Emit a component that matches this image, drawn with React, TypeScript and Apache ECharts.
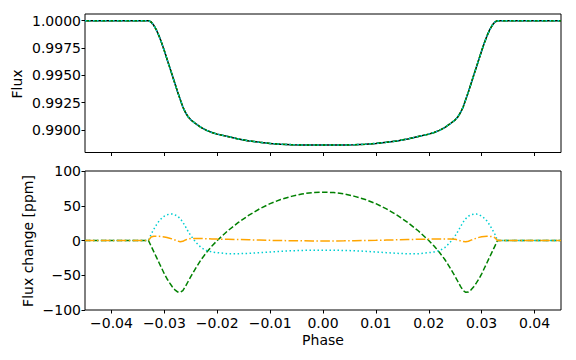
import React, { useEffect, useRef } from "react";
import * as echarts from "echarts";

const phase = [
  -0.045, -0.04, -0.035, -0.0335, -0.033, -0.0325, -0.032, -0.0315, -0.031, -0.0305,
  -0.03, -0.0295, -0.029, -0.0285, -0.028, -0.0275, -0.027, -0.0265, -0.026, -0.0255,
  -0.025, -0.024, -0.023, -0.022, -0.021, -0.02, -0.018, -0.016, -0.014, -0.012,
  -0.01, -0.008, -0.006, -0.004, -0.002,
  0,
  0.002, 0.004, 0.006, 0.008, 0.01, 0.012, 0.014, 0.016, 0.018, 0.02,
  0.021, 0.022, 0.023, 0.024, 0.025, 0.0255, 0.026, 0.0265, 0.027, 0.0275,
  0.028, 0.0285, 0.029, 0.0295, 0.03, 0.0305, 0.031, 0.0315, 0.032, 0.0325,
  0.033, 0.0335, 0.035, 0.04, 0.045,
];

const fluxModel = [
  1.0, 1.0, 1.0, 1.0, 1.0, 0.99988, 0.99958, 0.99915, 0.9986, 0.99795,
  0.99725, 0.9965, 0.99575, 0.995, 0.99425, 0.9935, 0.9928, 0.9921, 0.9916, 0.9912,
  0.99093, 0.99055, 0.99022, 0.98996, 0.98977, 0.98962, 0.9894, 0.98918, 0.989, 0.98887,
  0.98877, 0.9887, 0.98866, 0.98863, 0.98862,
  0.98862,
  0.98862, 0.98863, 0.98866, 0.9887, 0.98877, 0.98887, 0.989, 0.98918, 0.9894, 0.98962,
  0.98977, 0.98996, 0.99022, 0.99055, 0.99093, 0.9912, 0.9916, 0.9921, 0.9928, 0.9935,
  0.99425, 0.995, 0.99575, 0.9965, 0.99725, 0.99795, 0.9986, 0.99915, 0.99958, 0.99988,
  1.0, 1.0, 1.0, 1.0, 1.0,
];

const dGreen = [
  0, 0, 0, 0, 0, -8, -16, -24, -32, -40,
  -48, -55, -61, -66.5, -71, -74, -74.5, -72, -66, -59,
  -52, -39, -27, -17, -8, 0, 14, 26, 36.5, 45.5,
  53, 59, 63.5, 67, 69,
  69.5,
  69, 67, 63.5, 59, 53, 45.5, 36.5, 26, 14, 0,
  -8, -17, -27, -39, -52, -59, -66, -72, -74.5, -74,
  -71, -66.5, -61, -55, -48, -40, -32, -24, -16, -8,
  0, 0, 0, 0, 0,
];

const dCyan = [
  0, 0, 0, 0, 0, 9, 16, 22.5, 28, 32,
  35, 37, 38, 38, 37, 35, 31.5, 26.5, 20, 13,
  7, -3, -10.5, -14.5, -16.5, -17.5, -19, -19, -18.5, -17.5,
  -16.5, -15.5, -14.8, -14.3, -14,
  -14,
  -14, -14.3, -14.8, -15.5, -16.5, -17.5, -18.5, -19, -19, -17.5,
  -16.5, -14.5, -10.5, -3, 7, 13, 20, 26.5, 31.5, 35,
  37, 38, 38, 37, 35, 32, 28, 22.5, 16, 9,
  0, 0, 0, 0, 0,
];

const dOrange = [
  0, 0, 0, 0, 0, 5, 6, 6, 6, 5.5,
  5, 4.2, 3.3, 2.2, 0.8, -0.8, -1.8, -1.2, 0.8, 2.2,
  2.8, 3, 2.8, 2.5, 2.2, 2, 1.7, 1.4, 1, 0.6,
  0.2, -0.1, -0.3, -0.5, -0.6,
  -0.6,
  -0.6, -0.5, -0.3, -0.1, 0.2, 0.6, 1, 1.4, 1.7, 2,
  2.1, 2.2, 2.3, 2.3, 1.8, 0.8, -0.5, -1.6, -1.8, -1,
  0.5, 2, 3.3, 4.5, 5.3, 5.8, 6, 6, 5.5, 4,
  0, 0, 0, 0, 0,
];

const xTicks = [-0.04, -0.03, -0.02, -0.01, 0, 0.01, 0.02, 0.03, 0.04];
const fluxTicks = [0.99, 0.9925, 0.995, 0.9975, 1.0];
const ppmTicks = [-100, -50, 0, 50, 100];

const FONT = "DejaVu Sans";
const MINUS = "\u2212";

function fmtSigned(s: string): string {
  return s.startsWith("-") ? MINUS + s.slice(1) : s;
}

export default function App() {
  const ref = useRef<HTMLDivElement>(null);

  useEffect(() => {
    if (!ref.current) return;
    const chart = echarts.init(ref.current, null, { renderer: "svg" });

    const tickStyle = { show: true, inside: false, length: 3.5, lineStyle: { color: "#000", width: 1 } };
    const labelBase = { color: "#000", fontFamily: FONT, fontSize: 14 };
    const noLine = { show: false, onZero: false };

    const pts = (ys: number[]) => phase.map((p, i) => [p, ys[i]]);
    const line = (name: string, xi: number, ys: number[], color: string, type: any, z: number) => ({
      name,
      type: "line",
      xAxisIndex: xi,
      yAxisIndex: xi,
      data: pts(ys),
      showSymbol: false,
      symbol: "none",
      silent: true,
      z,
      lineStyle: { color, width: 1.5, type, cap: "butt" },
    });

    chart.setOption({
      animation: false,
      backgroundColor: "#fff",
      grid: [
        { left: 85, top: 14, width: 476, height: 138.5, show: true, borderColor: "#000", borderWidth: 1, backgroundColor: "transparent" },
        { left: 85, top: 171, width: 476, height: 139, show: true, borderColor: "#000", borderWidth: 1, backgroundColor: "transparent" },
      ],
      xAxis: [
        {
          gridIndex: 0, type: "value", min: -0.045, max: 0.045, position: "bottom",
          axisLine: noLine, splitLine: { show: false },
          axisTick: { ...tickStyle, customValues: xTicks },
          axisLabel: { show: false },
        },
        {
          gridIndex: 1, type: "value", min: -0.045, max: 0.045, position: "bottom",
          axisLine: noLine, splitLine: { show: false },
          axisTick: { ...tickStyle, customValues: xTicks },
          axisLabel: { ...labelBase, margin: 6, customValues: xTicks, formatter: (v: number) => fmtSigned(v.toFixed(2)) },
        },
      ],
      yAxis: [
        {
          gridIndex: 0, type: "value", min: 0.98794, max: 1.00061, position: "left",
          axisLine: noLine, splitLine: { show: false },
          axisTick: { ...tickStyle, customValues: fluxTicks },
          axisLabel: { ...labelBase, margin: 4, customValues: fluxTicks, formatter: (v: number) => v.toFixed(4) },
        },
        {
          gridIndex: 1, type: "value", min: -100, max: 100, interval: 50, position: "left",
          axisLine: noLine, splitLine: { show: false },
          axisTick: { ...tickStyle, customValues: ppmTicks },
          axisLabel: { ...labelBase, margin: 4, customValues: ppmTicks, formatter: (v: number) => fmtSigned(String(v)) },
        },
      ],
      series: [
        line("model", 0, fluxModel, "#000000", "solid", 2),
        line("green", 0, fluxModel, "#008000", [5.5, 2.4], 3),
        line("cyan", 0, fluxModel, "#00CED1", [1.5, 2.5], 4),
        line("dGreen", 1, dGreen, "#008000", [5.5, 2.4], 3),
        line("dCyan", 1, dCyan, "#00CED1", [1.5, 2.5], 4),
        line("dOrange", 1, dOrange, "#FFA500", [9.6, 2.4, 1.5, 2.4], 5),
      ],
      graphic: [
        { type: "text", x: 17, y: 84, rotation: Math.PI / 2, style: { text: "Flux", fill: "#000", font: `14px "${FONT}"`, align: "center", verticalAlign: "middle" } },
        { type: "text", x: 28, y: 241, rotation: Math.PI / 2, style: { text: "Flux change [ppm]", fill: "#000", font: `14px "${FONT}"`, align: "center", verticalAlign: "middle" } },
        { type: "text", x: 323, y: 340, style: { text: "Phase", fill: "#000", font: `14px "${FONT}"`, align: "center", verticalAlign: "middle" } },
      ],
    });

    return () => chart.dispose();
  }, []);

  return (
    <div
      ref={ref}
      style={{ position: "absolute", left: 0, top: 0, width: 576, height: 360, background: "#fff" }}
    />
  );
}
